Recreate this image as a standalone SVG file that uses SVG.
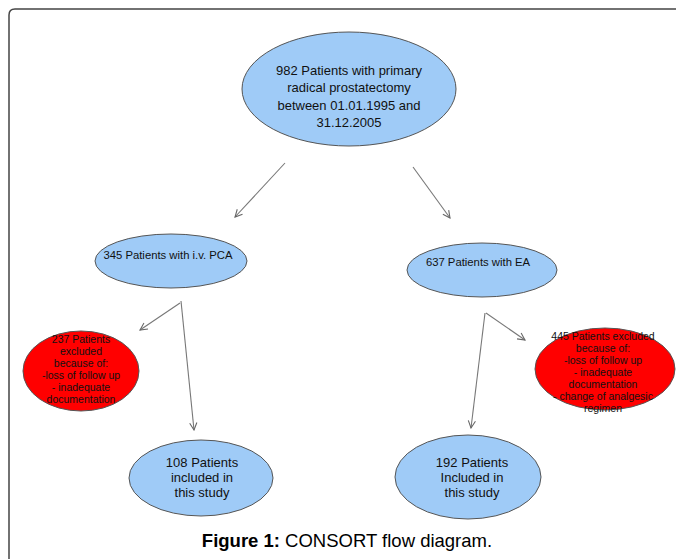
<svg xmlns="http://www.w3.org/2000/svg" width="676" height="559" viewBox="0 0 676 559">
<defs>
<style>
.blue{fill:#9fcbf7;stroke:#555;stroke-width:1}
.red{fill:#f00;stroke:#555;stroke-width:1}
text{font-family:"Liberation Sans",Arial,sans-serif;fill:#111;text-anchor:middle}
.t13{font-size:13px}
.t11{font-size:11.3px}
.t10{font-size:10.5px}
.conn{stroke:#777;stroke-width:1.1;fill:none;marker-end:url(#ah)}
</style>
<marker id="ah" viewBox="0 0 10 10" refX="9" refY="5" markerWidth="9" markerHeight="9" orient="auto" markerUnits="userSpaceOnUse">
<path d="M1,1 L9,5 L1,9" fill="none" stroke="#666" stroke-width="1.2"/>
</marker>
</defs>
<rect width="676" height="559" fill="#fff"/>
<path d="M9,559 L9,15 Q9,9 15,9 L676,9" fill="none" stroke="#444" stroke-width="1.5"/>
<g id="connectors">
<line class="conn" x1="285" y1="163" x2="235" y2="217"/>
<line class="conn" x1="413" y1="167" x2="450" y2="218"/>
<line class="conn" x1="180" y1="303" x2="140" y2="330"/>
<line class="conn" x1="181" y1="301" x2="194" y2="430"/>
<line class="conn" x1="485" y1="313" x2="471" y2="428"/>
<line class="conn" x1="486" y1="313" x2="525" y2="340"/>
</g>
<g id="n_top">
<ellipse class="blue" cx="349" cy="89" rx="107" ry="57"/>
<text class="t13" x="349" y="75">982 Patients with primary</text>
<text class="t13" x="349" y="92">radical prostatectomy</text>
<text class="t13" x="349" y="110">between 01.01.1995 and</text>
<text class="t13" x="349" y="127">31.12.2005</text>
</g>
<g id="n_pca">
<ellipse class="blue" cx="171" cy="261" rx="76" ry="27"/>
<text class="t11" x="168" y="259">345 Patients with i.v. PCA</text>
</g>
<g id="n_ea">
<ellipse class="blue" cx="482" cy="270" rx="75" ry="27"/>
<text class="t11" x="478" y="266">637 Patients with EA</text>
</g>
<g id="n_ex1">
<ellipse class="red" cx="81" cy="371" rx="58" ry="40"/>
<text class="t10" x="81" y="343">237 Patients</text>
<text class="t10" x="81" y="355">excluded</text>
<text class="t10" x="81" y="367">because of:</text>
<text class="t10" x="81" y="379">-loss of follow up</text>
<text class="t10" x="81" y="391">- inadequate</text>
<text class="t10" x="81" y="403">documentation</text>
</g>
<g id="n_ex2">
<ellipse class="red" cx="605" cy="369" rx="70" ry="41"/>
<text class="t10" x="603" y="340">445 Patients excluded</text>
<text class="t10" x="603" y="352">because of:</text>
<text class="t10" x="603" y="364">-loss of follow up</text>
<text class="t10" x="603" y="376">- inadequate</text>
<text class="t10" x="603" y="388">documentation</text>
<text class="t10" x="603" y="400">- change of analgesic</text>
<text class="t10" x="603" y="412">regimen</text>
</g>
<g id="n_inc1">
<ellipse class="blue" cx="201" cy="478" rx="72" ry="38"/>
<text class="t13" x="202" y="467">108 Patients</text>
<text class="t13" x="202" y="482">included in</text>
<text class="t13" x="202" y="497">this study</text>
</g>
<g id="n_inc2">
<ellipse class="blue" cx="468" cy="477" rx="73" ry="42"/>
<text class="t13" x="472" y="467">192 Patients</text>
<text class="t13" x="472" y="482">Included in</text>
<text class="t13" x="472" y="497">this study</text>
</g>
<text x="347" y="547" style="font-size:18.5px;fill:#000"><tspan font-weight="bold">Figure 1:</tspan> CONSORT flow diagram.</text>
</svg>
